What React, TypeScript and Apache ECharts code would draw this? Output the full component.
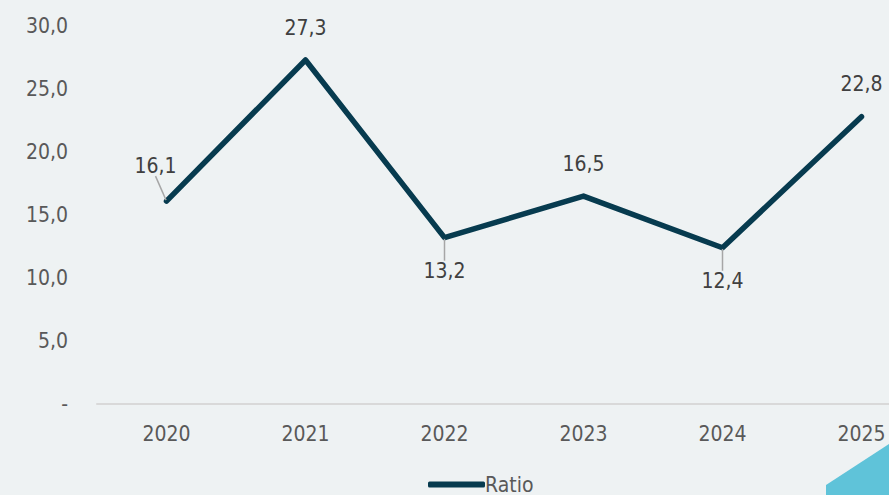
import React, { useEffect, useRef } from "react";
import * as echarts from "echarts";

const categories = ["2020", "2021", "2022", "2023", "2024", "2025"];
const ratioValues = [16.1, 27.3, 13.2, 16.5, 12.4, 22.8];
const seriesName = "Ratio";
const yTicks = { min: 0, max: 30, interval: 5 };

// label offsets (dx, dy) relative to ECharts default 'top' placement, and whether a leader line is drawn
const labelShift: [number, number, boolean][] = [
  [-11, -16, true],
  [0, -13, false],
  [0, 53, true],
  [0, -13, false],
  [0, 53, true],
  [0, -13, false],
];

const FONT = "'DejaVu Sans Condensed', 'DejaVu Sans', sans-serif";
const CHART_W = 940;

export default function App() {
  const ref = useRef<HTMLDivElement>(null);
  useEffect(() => {
    if (!ref.current) return;
    const chart = echarts.init(ref.current, null, { renderer: "svg" });
    const fmt = (v: number) => v.toFixed(1).replace(".", ",");
    chart.setOption({
      animation: false,
      backgroundColor: "#eef2f3",
      textStyle: { fontFamily: FONT },
      grid: { left: 97, right: CHART_W - 931, top: 26, bottom: 91, containLabel: false },
      xAxis: {
        type: "category",
        data: categories,
        boundaryGap: true,
        axisLine: { show: true, lineStyle: { color: "#d9d9d9", width: 2 } },
        axisTick: { show: false },
        axisLabel: { color: "#595959", fontSize: 21, margin: 19, fontFamily: FONT },
        splitLine: { show: false },
      },
      yAxis: {
        type: "value",
        min: yTicks.min,
        max: yTicks.max,
        interval: yTicks.interval,
        axisLine: { show: false },
        axisTick: { show: false },
        splitLine: { show: false },
        axisLabel: {
          color: "#595959",
          fontSize: 21,
          margin: 29,
          fontFamily: FONT,
          formatter: (v: number) => (v === 0 ? "-" : fmt(v)),
        },
      },
      legend: {
        show: true,
        left: 423,
        top: 469,
        icon: "roundRect",
        itemWidth: 57,
        itemHeight: 6,
        itemGap: 10,
        textStyle: { color: "#595959", fontSize: 21, fontFamily: FONT, padding: [0, 0, 0, -5] },
        data: [seriesName],
      },
      series: [
        {
          name: seriesName,
          type: "line",
          data: ratioValues.map((v, i) => ({
            value: v,
            labelLine: { show: labelShift[i][2] },
          })),
          symbol: "circle",
          symbolSize: 2,
          showSymbol: true,
          itemStyle: { color: "#073b4f" },
          lineStyle: { color: "#073b4f", width: 5.5, cap: "round", join: "round" },
          label: {
            show: true,
            position: "top",
            distance: 8,
            color: "#404040",
            fontSize: 21,
            fontFamily: FONT,
            formatter: (p: any) => fmt(p.value),
          },
          labelLine: { show: true, lineStyle: { color: "#a6a6a6", width: 1.5 } },
          labelLayout: (p: any) => {
            const s = labelShift[p.dataIndex];
            return { dx: s[0], dy: s[1] };
          },
        },
      ],
      graphic: [
        {
          type: "polygon",
          shape: { points: [[826, 495], [826, 485], [889, 444], [889, 495]] },
          style: { fill: "#5fc3d9" },
          silent: true,
        },
      ],
    });
    return () => chart.dispose();
  }, []);
  return (
    <div
      style={{ position: "fixed", left: 0, top: 0, width: 889, height: 495, overflow: "hidden" }}
    >
      <div ref={ref} style={{ width: CHART_W, height: 495 }} />
    </div>
  );
}
